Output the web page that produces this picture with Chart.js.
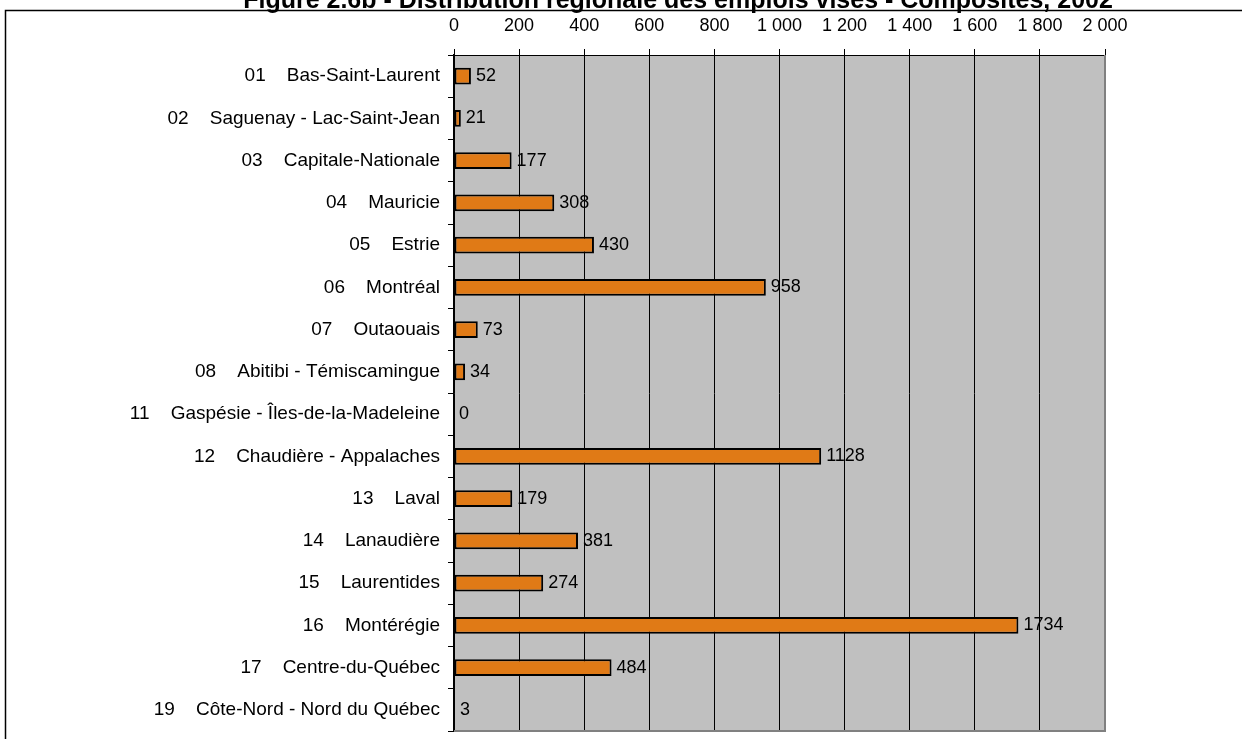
<!DOCTYPE html>
<html>
<head>
<meta charset="utf-8">
<script src="https://cdn.jsdelivr.net/npm/chart.js@4/dist/chart.umd.min.js"></script>
<style>
  body { margin: 0; background: #fff; }
  canvas { display: block; }
</style>
</head>
<body>
<canvas id="chart" width="1242" height="739"></canvas>
<script>
var titleText = "Figure 2.6b - Distribution régionale des emplois visés - Composites, 2002";

var codes = ["01", "02", "03", "04", "05", "06", "07", "08", "11", "12", "13", "14", "15", "16", "17", "19"];
var regions = [
  "Bas-Saint-Laurent", "Saguenay - Lac-Saint-Jean", "Capitale-Nationale", "Mauricie",
  "Estrie", "Montréal", "Outaouais", "Abitibi - Témiscamingue",
  "Gaspésie - Îles-de-la-Madeleine", "Chaudière - Appalaches", "Laval", "Lanaudière",
  "Laurentides", "Montérégie", "Centre-du-Québec", "Côte-Nord - Nord du Québec"
];
var emplois = [52, 21, 177, 308, 430, 958, 73, 34, 0, 1128, 179, 381, 274, 1734, 484, 3];
var xTicks = [0, 200, 400, 600, 800, 1000, 1200, 1400, 1600, 1800, 2000];

var labels = codes.map(function (c, i) { return c + "    " + regions[i]; });
var font = "Liberation Sans, Arial, Helvetica, sans-serif";

function fmt(v) {
  if (v >= 1000) {
    var s = String(v);
    return s.slice(0, s.length - 3) + " " + s.slice(s.length - 3);
  }
  return String(v);
}

// gray plot background, gray right/bottom frame, outer box and cut title
var decor = {
  id: "decor",
  beforeDraw: function (chart) {
    var ctx = chart.ctx, a = chart.chartArea;
    ctx.save();
    ctx.fillStyle = "#c0c0c0";
    ctx.fillRect(a.left, a.top, a.right - a.left, a.bottom - a.top);
    ctx.strokeStyle = "#000";
    ctx.lineWidth = 1.5;
    ctx.beginPath();
    ctx.moveTo(1242, 10.5);
    ctx.lineTo(5.5, 10.5);
    ctx.lineTo(5.5, 739);
    ctx.stroke();
    ctx.fillStyle = "#000";
    ctx.font = "bold 25px " + font;
    ctx.textAlign = "center";
    ctx.textBaseline = "alphabetic";
    ctx.fillText(titleText, 678, 8);
    ctx.restore();
  },
  beforeDatasetsDraw: function (chart) {
    var ctx = chart.ctx, a = chart.chartArea;
    ctx.save();
    ctx.strokeStyle = "#808080";
    ctx.lineWidth = 2;
    ctx.beginPath();
    ctx.moveTo(a.right, a.top);
    ctx.lineTo(a.right, a.bottom);
    ctx.lineTo(a.left, a.bottom);
    ctx.stroke();
    ctx.restore();
  },
  afterDatasetsDraw: function (chart) {
    var ctx = chart.ctx;
    var meta = chart.getDatasetMeta(0);
    ctx.save();
    ctx.fillStyle = "#000";
    ctx.font = "18px " + font;
    ctx.textAlign = "left";
    ctx.textBaseline = "middle";
    meta.data.forEach(function (bar, i) {
      ctx.fillText(String(emplois[i]), bar.x + 5, bar.y);
    });
    ctx.restore();
  }
};

new Chart(document.getElementById("chart"), {
  type: "bar",
  data: {
    labels: labels,
    datasets: [{
      data: emplois,
      backgroundColor: "#e07a16",
      borderColor: "#000",
      borderWidth: 2,
      borderSkipped: false,
      categoryPercentage: 1,
      barPercentage: 0.4
    }]
  },
  options: {
    indexAxis: "y",
    responsive: false,
    animation: false,
    layout: { padding: { left: 0, top: 0, right: 137, bottom: 8 } },
    plugins: { legend: { display: false }, tooltip: { enabled: false } },
    scales: {
      x: {
        position: "top",
        min: 0,
        max: 2000,
        afterBuildTicks: function (s) { s.ticks = xTicks.map(function (v) { return { value: v }; }); },
        afterFit: function (s) { s.height = 55; s.paddingLeft = 0; s.paddingRight = 0; },
        grid: { color: "#000", lineWidth: 1, tickLength: 6 },
        border: { color: "#000", width: 1 },
        ticks: {
          color: "#000",
          font: { family: font, size: 18 },
          padding: 12,
          maxRotation: 0,
          callback: function (v) { return fmt(v); }
        }
      },
      y: {
        afterFit: function (s) { s.width = 454; s.paddingTop = 0; s.paddingBottom = 0; },
        grid: { offset: true, drawOnChartArea: false, color: "#000", tickLength: 6 },
        border: { color: "#000", width: 1.5 },
        ticks: {
          color: "#000",
          font: { family: font, size: 19 },
          padding: 8,
          autoSkip: false
        }
      }
    }
  },
  plugins: [decor]
});
</script>
</body>
</html>
